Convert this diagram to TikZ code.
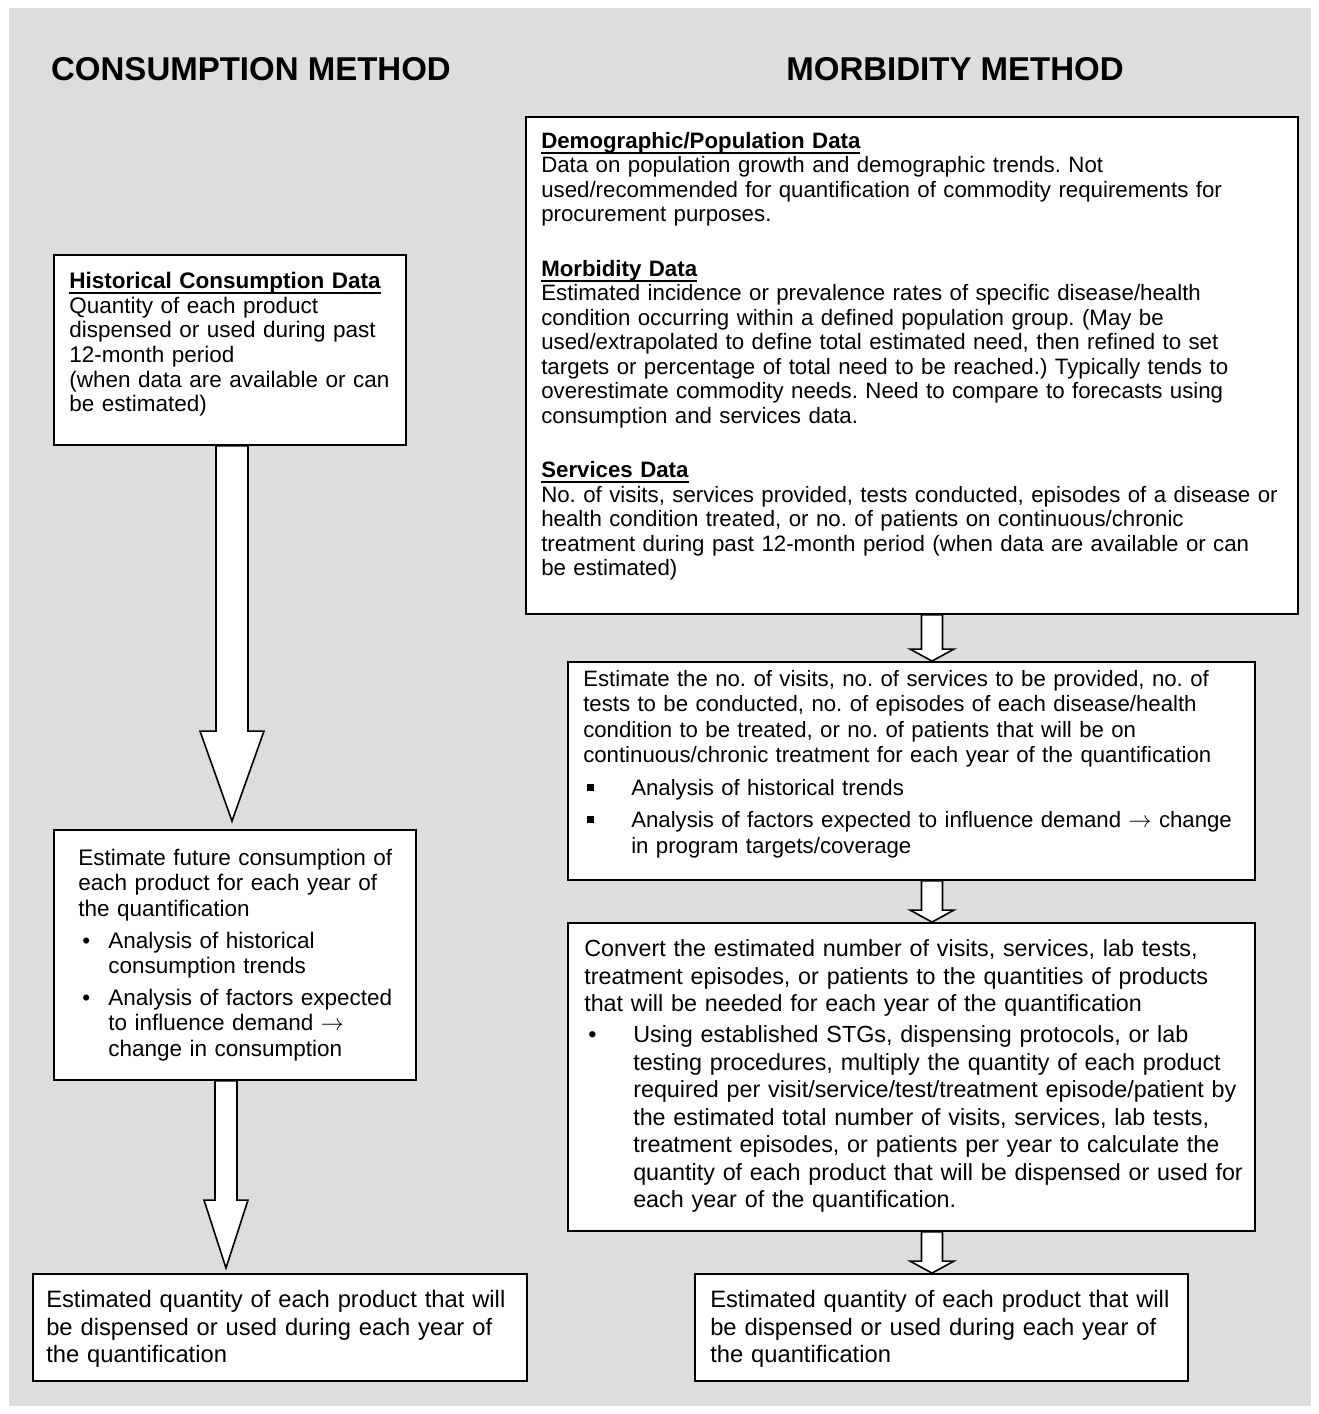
\documentclass[tikz,border=0pt]{standalone}
\usepackage{fontspec}
\setmainfont{Liberation Sans}
\usetikzlibrary{calc,fit}
\definecolor{bg}{HTML}{DDDDDD}
\newlength\pxu \setlength\pxu{0.75pt}
\setlength\parindent{0pt}
\setlength\parskip{0pt}
\newcommand\hdul[1]{\textbf{\setbox0\hbox{#1}\rlap{\vrule height -0.16em depth 0.24em width \wd0}\box0}}
\newcommand\bul[2]{\makebox[#1\pxu][l]{\hspace{#2\pxu}•}}
\newcommand\sqb{\makebox[48\pxu][l]{\hspace{4\pxu}\raisebox{4.5\pxu}{\rule{7\pxu}{7\pxu}}}}
\newcommand\rarr{\ensuremath{\rightarrow}}
% block arrow: from, to, cx, shaft half width, head half width, head length, gap
\newcommand\blockarrow[7]{%
  \draw[blk] let \p1=(#1.south), \p2=(#2.north) in
    ({(#3-#4)*\pxu},\y1) -- ({(#3-#4)*\pxu},{\y2+(#6+#7)*\pxu})
    -- ({(#3-#5)*\pxu},{\y2+(#6+#7)*\pxu}) -- ({#3*\pxu},{\y2+#7*\pxu})
    -- ({(#3+#5)*\pxu},{\y2+(#6+#7)*\pxu}) -- ({(#3+#4)*\pxu},{\y2+(#6+#7)*\pxu})
    -- ({(#3+#4)*\pxu},\y1) -- cycle;}
\tikzset{
  box/.style={draw=black, line width=1.4pt, fill=white, inner sep=0pt},
  txt/.style={anchor=north west, inner sep=0pt, align=left, text width=#1},
  blk/.style={draw=black, line width=1.2pt, fill=white, line join=miter},
  ttl/.style={anchor=base, inner sep=0pt, font=\fontsize{24.75pt}{29pt}\selectfont\bfseries},
  fa/.style={font=\fontsize{16.875pt}{18.5pt}\selectfont},
  fb/.style={font=\fontsize{16.875pt}{19.125pt}\selectfont},
  fc/.style={font=\fontsize{17.8pt}{20.625pt}\selectfont},
  fr/.style={font=\fontsize{16.7pt}{18.375pt}\selectfont},
  fq/.style={font=\fontsize{16.65pt}{19.125pt}\selectfont},
  fs/.style={font=\fontsize{17.5pt}{20.625pt}\selectfont},
}
\begin{document}
\frenchspacing
\begin{tikzpicture}[x=0.75pt, y=-0.75pt]
\useasboundingbox (0,0) rectangle (1319,1414);
\fill[white] (0,0) rectangle (1319,1414);
\fill[bg] (9,8) rectangle (1311,1406);

\node[ttl] (tc) at (251,80.5) {CONSUMPTION METHOD};
\node[ttl] (tm) at (955,80.5) {MORBIDITY METHOD};

% left column boxes
\node[box, fit={(54,255)(406,445)}] (b1) {};
\node[box, fit={(54,830)(416,1080)}] (b2) {};
\node[box, fit={(33,1274)(527,1381)}] (b3) {};
% right column boxes
\node[box, fit={(526,117)(1298,614)}] (r1) {};
\node[box, fit={(568,662)(1255,880)}] (r2) {};
\node[box, fit={(568,923)(1255,1231)}] (r3) {};
\node[box, fit={(695,1274)(1188,1381)}] (r4) {};

% arrows
\blockarrow{b1}{b2}{232}{16}{32}{90}{8}
\blockarrow{b2}{b3}{226}{11}{22}{68}{5}
\blockarrow{r1}{r2}{932}{10.5}{22}{12}{0}
\blockarrow{r2}{r3}{932}{10.5}{22}{12}{0}
\blockarrow{r3}{r4}{932}{10.5}{22}{12}{0}

% texts
\node[txt=400\pxu, fa] (b1t) at (69,270.8) {\strut\hdul{Historical Consumption Data}\\
Quantity of each product\\
dispensed or used during past\\
12-month period\\
(when data are available or can\\
be estimated)};

\node[txt=400\pxu, fb] (b2t) at (78,847.3) {\strut Estimate future consumption of\\
each product for each year of\\
the quantification\\[6.5\pxu]
\bul{30}{4}Analysis of historical\\
\hspace*{30\pxu}consumption trends\\[6\pxu]
\bul{30}{4}Analysis of factors expected\\
\hspace*{30\pxu}to influence demand \rarr\\
\hspace*{30\pxu}change in consumption};

\node[txt=520\pxu, fc] (b3t) at (46,1288) {\strut Estimated quantity of each product that will\\
be dispensed or used during each year of\\
the quantification};

\node[txt=800\pxu, fr] (r1t) at (541,131) {\strut\hdul{Demographic/Population Data}\\
Data on population growth and demographic trends. Not\\
used/recommended for quantification of commodity requirements for\\
procurement purposes.\\[30\pxu]
\hdul{Morbidity Data}\\
Estimated incidence or prevalence rates of specific disease/health\\
condition occurring within a defined population group. (May be\\
used/extrapolated to define total estimated need, then refined to set\\
targets or percentage of total need to be reached.) Typically tends to\\
overestimate commodity needs. Need to compare to forecasts using\\
consumption and services data.\\[30\pxu]
\hdul{Services Data}\\
No. of visits, services provided, tests conducted, episodes of a disease or\\
health condition treated, or no. of patients on continuous/chronic\\
treatment during past 12-month period (when data are available or can\\
be estimated)};

\node[txt=720\pxu, fq] (r2t) at (583,668.2) {\strut Estimate the no. of visits, no. of services to be provided, no. of\\
tests to be conducted, no. of episodes of each disease/health\\
condition to be treated, or no. of patients that will be on\\
continuous/chronic treatment for each year of the quantification\\[7\pxu]
\sqb Analysis of historical trends\\[7\pxu]
\sqb Analysis of factors expected to influence demand \rarr{} change\\
\hspace*{48\pxu}in program targets/coverage};

\node[txt=720\pxu, fs] (r3t) at (584,937.2) {\strut Convert the estimated number of visits, services, lab tests,\\
treatment episodes, or patients to the quantities of products\\
that will be needed for each year of the quantification\\[3.5\pxu]
\bul{49}{4}Using established STGs, dispensing protocols, or lab\\
\hspace*{49\pxu}testing procedures, multiply the quantity of each product\\
\hspace*{49\pxu}required per visit/service/test/treatment episode/patient by\\
\hspace*{49\pxu}the estimated total number of visits, services, lab tests,\\
\hspace*{49\pxu}treatment episodes, or patients per year to calculate the\\
\hspace*{49\pxu}quantity of each product that will be dispensed or used for\\
\hspace*{49\pxu}each year of the quantification.};

\node[txt=520\pxu, fc] (r4t) at (710,1288) {\strut Estimated quantity of each product that will\\
be dispensed or used during each year of\\
the quantification};
\end{tikzpicture}
\end{document}
